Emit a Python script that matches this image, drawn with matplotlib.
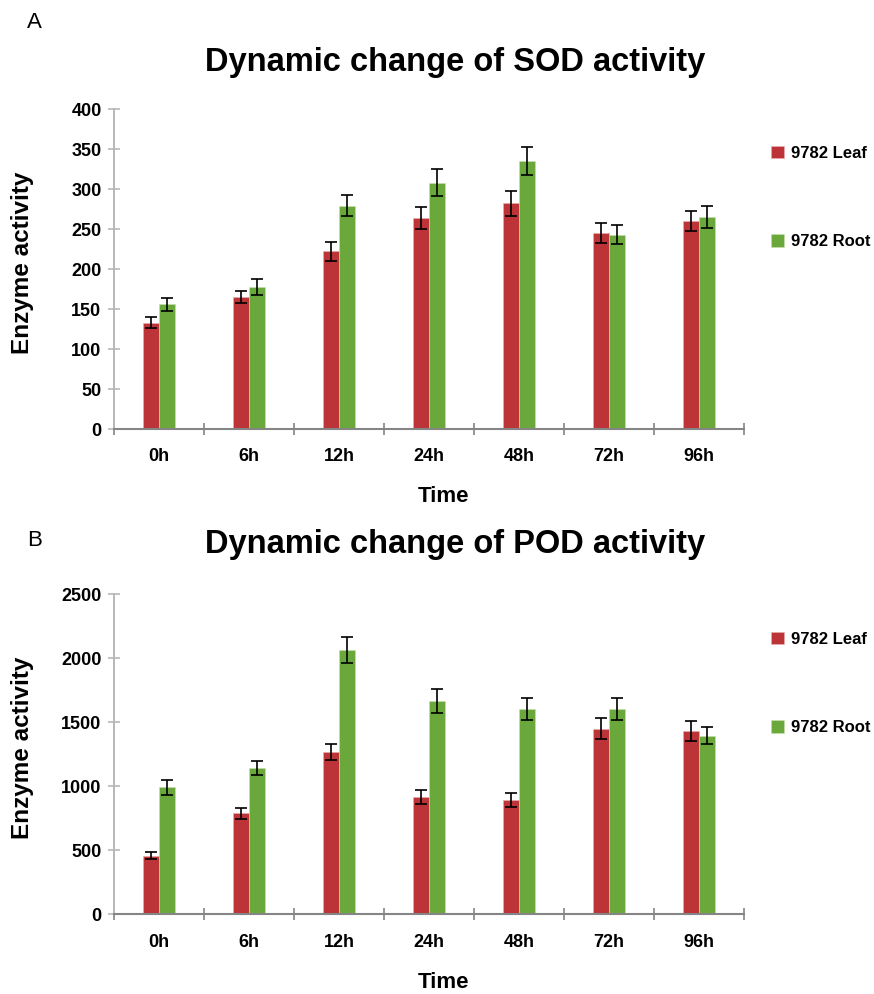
import matplotlib
matplotlib.use("Agg")
import matplotlib.pyplot as plt
import numpy as np
from matplotlib import font_manager

categories = ["0h", "6h", "12h", "24h", "48h", "72h", "96h"]
series_names = ["9782 Leaf", "9782 Root"]

sod_leaf = [133, 165, 222, 264, 282, 245, 260]
sod_leaf_err = [7, 8, 12, 14, 16, 13, 12]
sod_root = [156, 178, 279, 308, 335, 243, 265]
sod_root_err = [8, 10, 13, 17, 17, 12, 14]

pod_leaf = [458, 789, 1268, 916, 895, 1450, 1432]
pod_leaf_err = [25, 42, 62, 53, 55, 83, 80]
pod_root = [992, 1145, 2062, 1666, 1606, 1606, 1395]
pod_root_err = [57, 53, 102, 92, 86, 86, 68]

sod_ticks = [0, 50, 100, 150, 200, 250, 300, 350, 400]
pod_ticks = [0, 500, 1000, 1500, 2000, 2500]

RED = "#BC3438"
GREEN = "#6BA83C"
LGRAY = "#B8B8B8"
GRAY = "#858585"

names = {f.name for f in font_manager.fontManager.ttflist}
narrow = "Liberation Sans Narrow" if "Liberation Sans Narrow" in names else "Liberation Sans"
plt.rcParams['font.family'] = ['Liberation Sans', 'DejaVu Sans']

W, H = 874, 994
fig = plt.figure(figsize=(W / 100, H / 100), dpi=100)

def panel(top_px, title, leaf, leaf_err, root, root_err, ticks, letter, letter_y, title_y, time_y, leg_y):
    left, right, bottom = 114, 744, top_px + 320
    ax = fig.add_axes([left / W, 1 - bottom / H, (right - left) / W, 320 / H])
    x = np.arange(len(categories)) + 0.5
    bw = 0.178
    ax.bar(x - bw / 2, leaf, bw, color=RED, edgecolor="#E8B0B0", linewidth=0.4, label=series_names[0], zorder=2)
    ax.bar(x + bw / 2, root, bw, color=GREEN, edgecolor="#C8E0B0", linewidth=0.4, label=series_names[1], zorder=2)
    ax.errorbar(x - bw / 2, leaf, yerr=leaf_err, fmt="none", ecolor="black", elinewidth=1.2, capsize=4, capthick=1.2, zorder=3)
    ax.errorbar(x + bw / 2, root, yerr=root_err, fmt="none", ecolor="black", elinewidth=1.2, capsize=4, capthick=1.2, zorder=3)
    ax.set_xlim(0, len(categories))
    ax.set_ylim(ticks[0], ticks[-1])
    ax.set_yticks(ticks)
    ax.set_yticklabels([str(t) for t in ticks], fontsize=13, fontweight="bold")
    ax.set_xticks(np.arange(len(categories) + 1))
    ax.set_xticklabels([])
    ax.set_xticks(x, minor=True)
    ax.set_xticklabels(categories, minor=True, fontsize=13, fontweight="bold")
    ax.tick_params(axis="x", which="major", direction="inout", length=8, width=1.2, color=GRAY)
    ax.tick_params(axis="x", which="minor", length=0, pad=14)
    ax.tick_params(axis="y", direction="inout", length=8, width=1.2, color=LGRAY, pad=5)
    for s in ["top", "right"]:
        ax.spines[s].set_visible(False)
    ax.spines["left"].set_color(LGRAY)
    ax.spines["left"].set_linewidth(1.4)
    ax.spines["bottom"].set_color(GRAY)
    ax.spines["bottom"].set_linewidth(1.5)
    ax.set_ylabel("Enzyme activity", fontsize=17.5, fontweight="bold")
    ax.yaxis.set_label_coords(-0.127, 0.52)
    fig.text(443 / W, 1 - time_y / H, "Time", ha="center", va="center", fontsize=16, fontweight="bold")
    fig.text(455 / W, 1 - title_y / H, title, ha="center", va="center", fontsize=23.5, fontweight="bold",
             family=[narrow, 'DejaVu Sans'])
    fig.text(27 / W, 1 - letter_y / H, letter, ha="left", va="center", fontsize=16)
    ax.legend(loc="upper left", bbox_to_anchor=(764 / W, 1 - (leg_y - 14) / H), bbox_transform=fig.transFigure,
              frameon=False, prop={"weight": "bold", "size": 12}, handlelength=0.8, handleheight=0.8,
              handletextpad=0.4, labelspacing=4.4, borderaxespad=0)
    return ax

panel(109, "Dynamic change of SOD activity", sod_leaf, sod_leaf_err, sod_root, sod_root_err, sod_ticks,
      "A", 22, 62, 497, 153)
panel(594.3, "Dynamic change of POD activity", pod_leaf, pod_leaf_err, pod_root, pod_root_err, pod_ticks,
      "B", 540, 545, 983, 639)

fig.savefig("out.png", dpi=100)
